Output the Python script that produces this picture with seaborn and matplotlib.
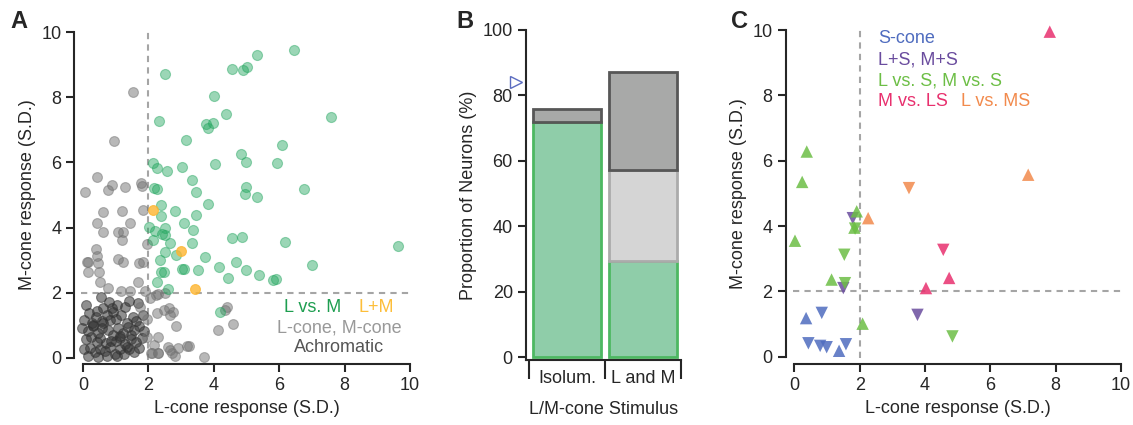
import numpy as np
import pandas as pd
import matplotlib
matplotlib.use("Agg")
import matplotlib.pyplot as plt
import seaborn as sns

# ---- panel A: L vs M cone responses (S.D.) ----
lvm_l = [6.46, 5.32, 4.55, 4.88, 5.00, 2.51, 4.02, 4.36, 7.59, 2.31, 3.77, 3.97, 3.81, 3.14,
         6.10, 4.83, 4.99, 5.93, 4.04, 2.13, 2.26, 2.56, 3.03, 3.33, 4.97, 4.96, 5.31, 6.77,
         2.18, 2.26, 3.47, 3.81, 2.40, 2.81, 3.45, 2.40, 3.10, 2.52, 2.03, 2.21, 2.43, 2.50,
         3.36, 2.14, 2.66, 3.33, 4.57, 4.86, 6.17, 9.63, 2.50, 2.84, 3.73, 2.35, 4.68, 7.01,
         2.40, 2.48, 3.02, 3.08, 3.51, 4.16, 4.98, 5.39, 4.42, 5.81, 5.91, 2.25, 2.61, 4.20]
lvm_m = [9.44, 9.29, 8.87, 8.82, 8.94, 8.70, 8.03, 7.49, 7.40, 7.26, 7.19, 7.22, 7.06, 6.70,
         6.54, 6.25, 6.00, 5.99, 5.96, 5.99, 5.82, 5.75, 5.86, 5.46, 5.25, 5.02, 4.95, 5.19,
         5.22, 5.17, 5.08, 4.73, 4.69, 4.52, 4.40, 4.36, 4.13, 4.00, 4.01, 3.89, 3.81, 3.78,
         3.93, 3.63, 3.54, 3.52, 3.67, 3.71, 3.55, 3.43, 3.24, 3.16, 3.10, 3.00, 2.94, 2.86,
         2.65, 2.65, 2.73, 2.74, 2.70, 2.80, 2.70, 2.56, 2.44, 2.40, 2.42, 2.32, 2.12, 1.41]

lpm_l = [2.15, 3.01, 3.43]
lpm_m = [4.54, 3.27, 2.11]

lmcone_l = [1.54, 0.95, 0.44, 0.90, 1.28, 0.75, 0.07, 1.77, 1.81, 0.60, 1.18, 1.83, 0.44, 1.44,
            0.61, 1.07, 1.22, 1.20, 1.95, 0.40, 0.44, 0.12, 0.16, 0.46, 1.06, 1.21, 1.72, 1.82,
            0.16, 0.49, 0.52, 1.69, 1.74, 2.05, 2.22, 2.30, 2.51, 2.25, 2.48, 2.64, 2.66, 2.76,
            2.84, 2.30, 2.17, 2.10, 2.30, 2.66, 2.71, 2.91, 2.81, 3.17, 3.25, 3.71, 4.14, 4.34,
            4.41, 4.60, 1.95, 2.28, 2.07, 2.61, 0.77, 1.16, 1.44, 1.90, 1.95]
lmcone_m = [8.15, 6.66, 5.56, 5.32, 5.24, 5.15, 5.10, 5.36, 5.28, 4.49, 4.50, 4.53, 4.15, 4.15,
            3.86, 3.86, 3.86, 3.62, 3.50, 3.34, 3.13, 2.95, 2.94, 2.92, 3.05, 2.94, 2.92, 2.95,
            2.65, 2.65, 2.34, 2.34, 1.57, 1.83, 1.93, 1.95, 1.98, 1.37, 1.47, 1.52, 1.32, 1.42,
            0.99, 0.63, 0.40, 0.14, 0.14, 0.25, 0.16, 0.30, 0.06, 0.38, 0.38, 0.04, 0.86, 1.47,
            1.56, 1.04, 0.65, 0.16, 0.14, 0.35, 2.14, 2.06, 2.06, 2.06, 1.20]

achrom_l = [0.55, 0.78, 0.62, 0.43, 0.18, 0.88, 1.03, 1.27, 1.42, 1.68,
            0.03, 0.27, 0.41, 0.57, 0.72, 0.83, 1.02, 1.17, 1.33, 1.52, 1.63, 1.82,
            -0.04, 0.14, 0.31, 0.47, 0.58, 0.76, 0.93, 1.07, 1.22, 1.37, 1.57, 1.72, 1.86,
            0.09, 0.24, 0.42, 0.53, 0.69, 0.87, 1.01, 1.13, 1.28, 1.47, 1.62, 1.79,
            0.02, 0.21, 0.36, 0.52, 0.66, 0.82, 0.97, 1.12, 1.24, 1.41, 1.56, 1.71,
            0.16, 0.46, 0.73, 1.04, 1.33, 0.32, 0.62, 1.12, 1.48, 0.08, 0.92]
achrom_m = [1.87, 1.72, 1.52, 1.43, 1.38, 1.53, 1.63, 1.57, 1.76, 1.69,
            1.17, 1.08, 1.27, 1.13, 1.32, 1.16, 1.21, 1.33, 1.08, 1.26, 1.13, 1.31,
            0.92, 0.83, 0.97, 0.78, 0.93, 0.87, 0.71, 0.92, 0.78, 0.96, 0.86, 0.97, 0.82,
            0.57, 0.63, 0.48, 0.62, 0.46, 0.53, 0.52, 0.61, 0.43, 0.57, 0.48, 0.62,
            0.27, 0.31, 0.17, 0.28, 0.22, 0.33, 0.13, 0.26, 0.12, 0.28, 0.19, 0.31,
            0.06, 0.04, 0.07, 0.05, 0.33, 1.02, 1.06, 0.68, 0.72, 1.62, 1.41]

# ---- panel B: proportion of neurons ----
stimulus = ["Isolum.", "L and M"]
pct_lvm = [72.0, 29.5]
pct_lmcone = [0.0, 27.7]
pct_achrom = [3.7, 30.0]
scone_marker_pct = 84

# ---- panel C: S-cone related cells ----
c_group = (["S-cone"] * 7 + ["L+S, M+S"] * 3 + ["L vs. S, M vs. S"] * 11
           + ["M vs. LS"] * 4 + ["L vs. MS"] * 3)
c_sign = (["up", "down", "down", "down", "down", "up", "down"]
          + ["down", "down", "down"]
          + ["up", "up", "up", "up", "up", "down", "down", "up", "down", "up", "down"]
          + ["up", "down", "up", "up"]
          + ["down", "up", "up"])
c_l = [0.36, 0.84, 0.43, 0.79, 0.99, 1.37, 1.58,
       1.79, 1.50, 3.77,
       0.02, 0.38, 0.24, 1.91, 1.84, 1.86, 1.53, 1.14, 1.55, 2.09, 4.84,
       7.82, 4.56, 4.74, 4.03,
       3.51, 7.16, 2.26]
c_m = [1.18, 1.34, 0.41, 0.33, 0.29, 0.18, 0.38,
       4.24, 2.10, 1.28,
       3.55, 6.28, 5.35, 4.45, 3.95, 3.92, 3.12, 2.36, 2.25, 1.01, 0.62,
       9.95, 3.27, 2.41, 2.10,
       5.16, 5.57, 4.24]

c_colors = {"S-cone": "#4F6CBF", "L+S, M+S": "#6A4C9E", "L vs. S, M vs. S": "#6CBE45",
            "M vs. LS": "#E8306E", "L vs. MS": "#F28A4C"}

sns.set_style("ticks")
plt.rcParams["font.family"] = ["Liberation Sans", "DejaVu Sans"]
plt.rcParams["axes.linewidth"] = 1.5
plt.rcParams["xtick.major.width"] = 1.5
plt.rcParams["ytick.major.width"] = 1.5
plt.rcParams["xtick.major.size"] = 6
plt.rcParams["ytick.major.size"] = 6
plt.rcParams["xtick.labelsize"] = 13
plt.rcParams["ytick.labelsize"] = 13
plt.rcParams["axes.labelsize"] = 13

W, H = 1133, 425
fig = plt.figure(figsize=(W / 100, H / 100), dpi=100)


def px_axes(x0, x1, y0, y1):
    # pixel box (left, right, top, bottom) -> figure fraction
    return fig.add_axes([x0 / W, 1 - y1 / H, (x1 - x0) / W, (y1 - y0) / H])


dash = dict(color="#A5A5A5", lw=1.5, ls=(0, (3, 2.5)), zorder=0)

# ---------- A ----------
axA = px_axes(81.4, 411.6, 30.4, 359.6)
axA.axvline(2, **dash)
axA.axhline(2, **dash)
sns.scatterplot(x=achrom_l, y=achrom_m, color="#333333", alpha=0.55, s=50,
                edgecolor="#333333", linewidth=0.8, ax=axA, clip_on=False)
sns.scatterplot(x=lmcone_l, y=lmcone_m, color="#737373", alpha=0.5, s=50,
                edgecolor="#737373", linewidth=0.8, ax=axA, clip_on=False)
sns.scatterplot(x=lvm_l, y=lvm_m, color="#22A65E", alpha=0.45, s=52,
                edgecolor="#22A65E", linewidth=0.8, ax=axA, clip_on=False)
sns.scatterplot(x=lpm_l, y=lpm_m, color="#FDB52F", alpha=0.8, s=50,
                edgecolor="#FDB52F", linewidth=0.8, ax=axA, clip_on=False)
axA.set_xlim(-0.05, 10.05)
axA.set_ylim(-0.05, 10.05)
axA.set_xticks(range(0, 11, 2))
axA.set_yticks(range(0, 11, 2))
axA.set_xlabel("L-cone response (S.D.)")
axA.set_ylabel("M-cone response (S.D.)")
sns.despine(ax=axA, offset={"left": 5, "bottom": 3}, trim=True)
axA.text(7.02, 1.56, "L vs. M", color="#1E9E50", ha="center", va="center", fontsize=13)
axA.text(8.98, 1.56, "L+M", color="#FDBE3A", ha="center", va="center", fontsize=13)
axA.text(7.83, 0.92, "L-cone, M-cone", color="#999999", ha="center", va="center", fontsize=13)
axA.text(7.83, 0.31, "Achromatic", color="#555555", ha="center", va="center", fontsize=13)

# ---------- B ----------
axB = px_axes(526, 681, 30, 360.3)
dfB = pd.DataFrame({"stimulus": stimulus, "lvm": pct_lvm, "lmcone": pct_lmcone, "achrom": pct_achrom})
dfB["b_lmcone"] = dfB["lvm"]
dfB["b_achrom"] = dfB["lvm"] + dfB["lmcone"]
layers = [("lvm", None, "#8FCDA9", "#4DB862"),
          ("lmcone", "b_lmcone", "#D5D5D5", "#ABABAB"),
          ("achrom", "b_achrom", "#A8A9A8", "#575757")]
for col, bcol, fc, ec in layers:
    sub = dfB[dfB[col] > 0]
    bottom = 0 if bcol is None else sub[bcol].values
    sns.barplot(data=sub, x="stimulus", y=col, order=stimulus, bottom=bottom,
                width=0.89, color=fc, saturation=1, edgecolor=ec, linewidth=2,
                errorbar=None, ax=axB)
axB.plot([-0.67], [scone_marker_pct], marker=">", ms=8, mfc="none", mec="#5B6CC0",
         mew=1, clip_on=False, ls="none")
axB.set_xlim(-0.54, 1.5)
axB.set_ylim(-1, 100)
axB.set_yticks(range(0, 101, 20))
axB.set_xticks([-0.5, 0.5, 1.5])
axB.set_xticklabels(["", "", ""])
axB.tick_params(axis="x", which="major", length=14)
axB.set_xticks([0, 1], minor=True)
axB.set_xticklabels(stimulus, minor=True)
axB.tick_params(axis="x", which="minor", length=0, pad=7, labelsize=13)
axB.set_xlabel("L/M-cone Stimulus", labelpad=10)
axB.set_ylabel("Proportion of Neurons (%)")
sns.despine(ax=axB)

# ---------- C ----------
axC = px_axes(792.7, 1122.6, 28.4, 358.3)
axC.axvline(2, **dash)
axC.axhline(2, **dash)
dfC = pd.DataFrame({"l": c_l, "m": c_m, "group": c_group, "sign": c_sign})
sns.scatterplot(data=dfC, x="l", y="m", hue="group", style="sign",
                palette=c_colors, markers={"up": "^", "down": "v"}, s=80,
                alpha=0.85, edgecolor="none", legend=False, ax=axC, clip_on=False)
axC.set_xlim(-0.05, 10.05)
axC.set_ylim(-0.05, 10.05)
axC.set_xticks(range(0, 11, 2))
axC.set_yticks(range(0, 11, 2))
axC.set_xlabel("L-cone response (S.D.)")
axC.set_ylabel("M-cone response (S.D.)")
sns.despine(ax=axC, offset={"left": 5, "bottom": 4}, trim=True)
ty = [9.73, 9.08, 8.44, 7.82]
for (lab, col), yy in zip(list(c_colors.items())[:4], ty):
    axC.text(2.56, yy, lab, color=col, fontsize=13, va="center", ha="left")
axC.text(5.1, ty[3], "L vs. MS", color=c_colors["L vs. MS"], fontsize=13, va="center", ha="left")

for lab, xp in [("A", 10), ("B", 456), ("C", 731)]:
    fig.text(xp / W, 1 - 22 / H, lab, fontsize=17, fontweight="bold", va="center", ha="left")

fig.savefig("out.png", dpi=100)
